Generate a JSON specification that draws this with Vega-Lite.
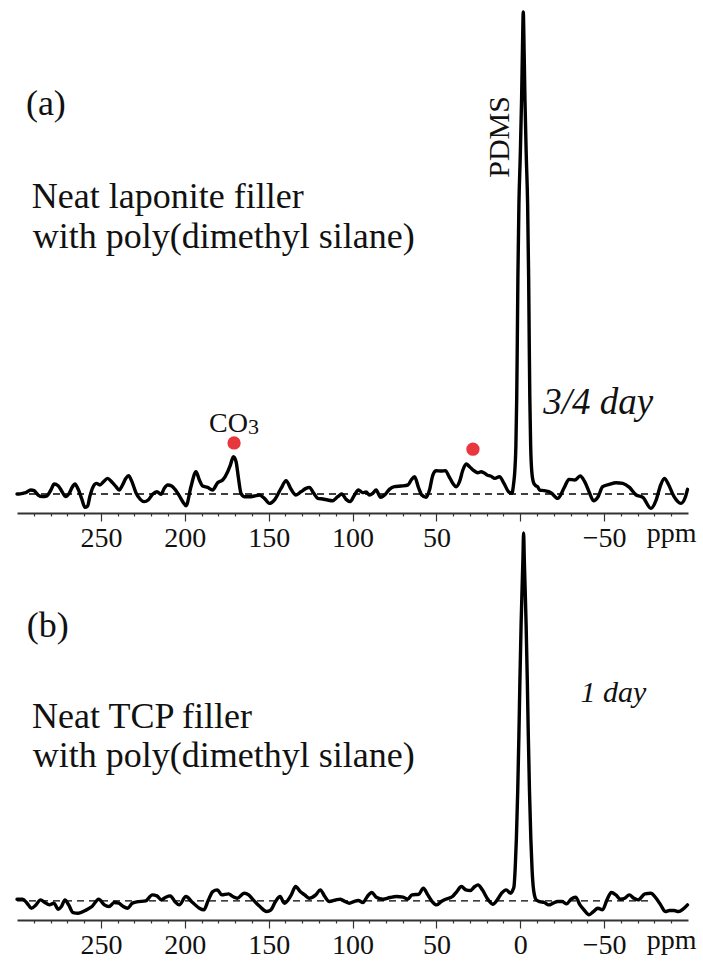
{
  "$schema": "https://vega.github.io/schema/vega-lite/v6.json",
  "padding": {"left": 15, "top": 0, "right": 0, "bottom": 0},
  "background": "white",
  "bounds": "flush",
  "spacing": 17,
  "config": {"view": {"stroke": null}, "font": "Liberation Serif", "axis": {"labelFont": "Liberation Serif"}},
  "datasets": {
    "spec_a": [
      {"ppm": 300, "intensity": 0.0}, {"ppm": 298.7, "intensity": 0.0}, {"ppm": 296.7, "intensity": 0.14}, {"ppm": 294.8, "intensity": 0.28},
      {"ppm": 291.8, "intensity": 0.83}, {"ppm": 289.8, "intensity": 0.69}, {"ppm": 287.4, "intensity": -0.21}, {"ppm": 284.8, "intensity": -0.55},
      {"ppm": 282.4, "intensity": -0.42}, {"ppm": 279.8, "intensity": 0.83}, {"ppm": 277.8, "intensity": 2.07}, {"ppm": 275.5, "intensity": 1.73},
      {"ppm": 273.5, "intensity": 0.69}, {"ppm": 270.9, "intensity": -0.55}, {"ppm": 268.9, "intensity": 0.14}, {"ppm": 266.9, "intensity": 1.52},
      {"ppm": 265.5, "intensity": 2.07}, {"ppm": 263.5, "intensity": 0.97}, {"ppm": 261.5, "intensity": -0.9}, {"ppm": 259.5, "intensity": -2.77},
      {"ppm": 257.9, "intensity": -2.49}, {"ppm": 256.6, "intensity": -0.55}, {"ppm": 254.6, "intensity": 1.52}, {"ppm": 252.6, "intensity": 2.2},
      {"ppm": 250.6, "intensity": 1.87}, {"ppm": 248.6, "intensity": 2.49}, {"ppm": 246.0, "intensity": 3.25}, {"ppm": 243.6, "intensity": 2.56},
      {"ppm": 241.0, "intensity": 1.52}, {"ppm": 239.1, "intensity": 0.83}, {"ppm": 237.1, "intensity": 1.87}, {"ppm": 235.1, "intensity": 3.25},
      {"ppm": 233.5, "intensity": 3.8}, {"ppm": 231.5, "intensity": 2.56}, {"ppm": 229.1, "intensity": 0.28}, {"ppm": 226.5, "intensity": -1.1},
      {"ppm": 224.1, "intensity": -1.59}, {"ppm": 221.8, "intensity": -1.24}, {"ppm": 219.2, "intensity": -0.07}, {"ppm": 216.6, "intensity": 0.48},
      {"ppm": 214.2, "intensity": -0.07}, {"ppm": 212.2, "intensity": 1.18}, {"ppm": 210.2, "intensity": 1.87}, {"ppm": 207.8, "intensity": 1.66},
      {"ppm": 205.8, "intensity": 0.97}, {"ppm": 203.3, "intensity": -0.35}, {"ppm": 201.0, "intensity": -1.7}, {"ppm": 199.2, "intensity": -2.45},
      {"ppm": 196.3, "intensity": 1.52}, {"ppm": 193.3, "intensity": 4.63}, {"ppm": 191.3, "intensity": 2.9}, {"ppm": 189.3, "intensity": 1.66},
      {"ppm": 186.4, "intensity": 1.38}, {"ppm": 183.4, "intensity": 0.83}, {"ppm": 180.4, "intensity": 2.35}, {"ppm": 177.4, "intensity": 2.9},
      {"ppm": 174.4, "intensity": 4.63}, {"ppm": 172.8, "intensity": 6.01}, {"ppm": 171.0, "intensity": 7.74}, {"ppm": 169.4, "intensity": 6.7},
      {"ppm": 168.1, "intensity": 3.59}, {"ppm": 166.5, "intensity": 0.14}, {"ppm": 164.5, "intensity": -0.56}, {"ppm": 161.5, "intensity": -0.56},
      {"ppm": 158.5, "intensity": -0.42}, {"ppm": 155.5, "intensity": -0.21}, {"ppm": 152.5, "intensity": -0.9}, {"ppm": 149.6, "intensity": -1.94},
      {"ppm": 146.6, "intensity": -1.25}, {"ppm": 142.6, "intensity": 1.17}, {"ppm": 139.6, "intensity": 2.76}, {"ppm": 136.6, "intensity": 0.97},
      {"ppm": 133.7, "intensity": -0.21}, {"ppm": 130.7, "intensity": 0.48}, {"ppm": 127.7, "intensity": 1.17}, {"ppm": 125.7, "intensity": 1.38},
      {"ppm": 123.1, "intensity": 0.14}, {"ppm": 120.7, "intensity": -0.9}, {"ppm": 117.7, "intensity": -1.04}, {"ppm": 114.8, "intensity": -1.25},
      {"ppm": 111.8, "intensity": -1.39}, {"ppm": 108.8, "intensity": -0.56}, {"ppm": 106.4, "intensity": 0.0}, {"ppm": 103.8, "intensity": -1.11},
      {"ppm": 101.4, "intensity": -1.59}, {"ppm": 98.8, "intensity": -0.21}, {"ppm": 96.5, "intensity": 0.83}, {"ppm": 93.9, "intensity": 0.28},
      {"ppm": 91.9, "intensity": 0.41}, {"ppm": 89.9, "intensity": -0.21}, {"ppm": 87.9, "intensity": 0.14}, {"ppm": 85.9, "intensity": 0.83},
      {"ppm": 83.3, "intensity": -0.69}, {"ppm": 80.9, "intensity": -0.21}, {"ppm": 78.0, "intensity": 0.97}, {"ppm": 75.0, "intensity": 1.52},
      {"ppm": 71.0, "intensity": 1.66}, {"ppm": 67.0, "intensity": 1.87}, {"ppm": 65.0, "intensity": 2.9}, {"ppm": 63.0, "intensity": 3.59},
      {"ppm": 60.7, "intensity": 1.38}, {"ppm": 58.7, "intensity": -0.21}, {"ppm": 56.1, "intensity": -0.69}, {"ppm": 54.1, "intensity": 0.83},
      {"ppm": 52.1, "intensity": 3.94}, {"ppm": 50.1, "intensity": 4.84}, {"ppm": 47.1, "intensity": 4.77}, {"ppm": 44.6, "intensity": 4.84},
      {"ppm": 42.6, "intensity": 3.73}, {"ppm": 40.2, "intensity": 2.21}, {"ppm": 38.2, "intensity": 1.52}, {"ppm": 36.2, "intensity": 2.56},
      {"ppm": 34.2, "intensity": 4.98}, {"ppm": 32.2, "intensity": 6.22}, {"ppm": 30.2, "intensity": 5.67}, {"ppm": 28.2, "intensity": 4.98},
      {"ppm": 25.3, "intensity": 4.42}, {"ppm": 23.3, "intensity": 4.63}, {"ppm": 21.7, "intensity": 4.4}, {"ppm": 19.5, "intensity": 3.9},
      {"ppm": 17.7, "intensity": 3.73}, {"ppm": 15.1, "intensity": 3.25}, {"ppm": 12.4, "intensity": 3.59}, {"ppm": 9.7, "intensity": 2.21},
      {"ppm": 7.0, "intensity": 0.48}, {"ppm": 5.0, "intensity": 0.14}, {"ppm": 4.0, "intensity": 2}, {"ppm": 3.2, "intensity": 5},
      {"ppm": 2.6, "intensity": 10}, {"ppm": 2.1, "intensity": 20}, {"ppm": 1.8, "intensity": 30}, {"ppm": 1.4, "intensity": 45},
      {"ppm": 0.8, "intensity": 60}, {"ppm": 0.0, "intensity": 70}, {"ppm": -0.8, "intensity": 82}, {"ppm": -1.3, "intensity": 92},
      {"ppm": -1.8, "intensity": 100}, {"ppm": -2.3, "intensity": 92}, {"ppm": -2.8, "intensity": 82}, {"ppm": -3.6, "intensity": 70},
      {"ppm": -4.4, "intensity": 60}, {"ppm": -5.0, "intensity": 45}, {"ppm": -5.4, "intensity": 30}, {"ppm": -5.7, "intensity": 20},
      {"ppm": -6.2, "intensity": 10}, {"ppm": -6.8, "intensity": 5}, {"ppm": -7.8, "intensity": 2.5}, {"ppm": -9.0, "intensity": 1.8},
      {"ppm": -10.3, "intensity": 1.52}, {"ppm": -11.6, "intensity": 0.83}, {"ppm": -14.3, "intensity": 0.69}, {"ppm": -18.3, "intensity": 0.28},
      {"ppm": -22.3, "intensity": -0.9}, {"ppm": -26.3, "intensity": 1.38}, {"ppm": -29.0, "intensity": 3.04}, {"ppm": -32.5, "intensity": 2.9},
      {"ppm": -35.7, "intensity": 3.73}, {"ppm": -38.4, "intensity": 2.56}, {"ppm": -41.0, "intensity": 0.48}, {"ppm": -43.7, "intensity": -1.39},
      {"ppm": -46.4, "intensity": -0.56}, {"ppm": -49.1, "intensity": 1.52}, {"ppm": -53.1, "intensity": 2.0}, {"ppm": -57.1, "intensity": 2.35},
      {"ppm": -61.1, "intensity": 2.21}, {"ppm": -65.1, "intensity": 1.38}, {"ppm": -69.1, "intensity": -0.21}, {"ppm": -73.1, "intensity": -0.69},
      {"ppm": -77.9, "intensity": -2.98}, {"ppm": -81.0, "intensity": -1.25}, {"ppm": -83.7, "intensity": 1.87}, {"ppm": -85.9, "intensity": 3.25},
      {"ppm": -88.5, "intensity": 1.87}, {"ppm": -91.7, "intensity": -0.56}, {"ppm": -95.7, "intensity": -1.94}, {"ppm": -98.5, "intensity": -0.56},
      {"ppm": -99.7, "intensity": 0.97}
    ],
    "spec_b": [
      {"ppm": 300, "intensity": 0.46}, {"ppm": 296.7, "intensity": 0.46}, {"ppm": 294.0, "intensity": -0.63}, {"ppm": 291.4, "intensity": -1.99},
      {"ppm": 288.7, "intensity": -1.09}, {"ppm": 286.0, "intensity": 0.27}, {"ppm": 283.4, "intensity": -0.45}, {"ppm": 280.7, "intensity": -1.09},
      {"ppm": 278.0, "intensity": -0.63}, {"ppm": 275.4, "intensity": -2.26}, {"ppm": 273.5, "intensity": -1.54}, {"ppm": 271.4, "intensity": 0.27},
      {"ppm": 269.2, "intensity": -1.09}, {"ppm": 266.6, "intensity": -3.17}, {"ppm": 263.4, "intensity": -3.35}, {"ppm": 259.3, "intensity": -2.62},
      {"ppm": 255.3, "intensity": -1.54}, {"ppm": 251.3, "intensity": 0.46}, {"ppm": 247.9, "intensity": -1.09}, {"ppm": 245.2, "intensity": -1.54},
      {"ppm": 242.0, "intensity": -0.45}, {"ppm": 239.3, "intensity": -0.63}, {"ppm": 236.7, "intensity": -1.54}, {"ppm": 234.0, "intensity": -1.99},
      {"ppm": 231.3, "intensity": -0.63}, {"ppm": 228.6, "intensity": -0.27}, {"ppm": 223.3, "intensity": 0.0}, {"ppm": 219.3, "intensity": 1.63},
      {"ppm": 216.6, "intensity": 1.36}, {"ppm": 214.0, "intensity": 0.27}, {"ppm": 211.3, "intensity": 1.0}, {"ppm": 208.6, "intensity": 1.36},
      {"ppm": 205.9, "intensity": -0.18}, {"ppm": 203.3, "intensity": -1.09}, {"ppm": 199.3, "intensity": 1.18}, {"ppm": 195.3, "intensity": -0.45},
      {"ppm": 191.3, "intensity": -1.99}, {"ppm": 188.6, "intensity": -2.44}, {"ppm": 185.9, "intensity": 0.27}, {"ppm": 183.3, "intensity": 2.54},
      {"ppm": 180.6, "intensity": 2.99}, {"ppm": 177.9, "intensity": 1.63}, {"ppm": 173.9, "intensity": 1.9}, {"ppm": 171.3, "intensity": 1.18},
      {"ppm": 168.6, "intensity": 0.72}, {"ppm": 164.6, "intensity": 2.09}, {"ppm": 161.9, "intensity": 1.63}, {"ppm": 159.2, "intensity": 0.27},
      {"ppm": 155.2, "intensity": -1.54}, {"ppm": 151.2, "intensity": -2.9}, {"ppm": 148.6, "intensity": -2.44}, {"ppm": 145.9, "intensity": -0.18},
      {"ppm": 143.2, "intensity": 1.18}, {"ppm": 140.6, "intensity": -0.63}, {"ppm": 136.5, "intensity": 1.63}, {"ppm": 133.9, "intensity": 3.9},
      {"ppm": 131.2, "intensity": 2.54}, {"ppm": 128.5, "intensity": 1.63}, {"ppm": 125.9, "intensity": 0.72}, {"ppm": 121.9, "intensity": 1.63},
      {"ppm": 119.2, "intensity": 2.99}, {"ppm": 116.5, "intensity": 1.18}, {"ppm": 113.9, "intensity": -0.18}, {"ppm": 109.9, "intensity": 0.27},
      {"ppm": 107.2, "intensity": 0.46}, {"ppm": 104.5, "intensity": -0.18}, {"ppm": 101.8, "intensity": -0.63}, {"ppm": 99.2, "intensity": -0.18},
      {"ppm": 96.5, "intensity": 0.09}, {"ppm": 93.8, "intensity": -0.45}, {"ppm": 91.2, "intensity": 1.18}, {"ppm": 88.5, "intensity": 2.27},
      {"ppm": 85.8, "intensity": 1.0}, {"ppm": 81.8, "intensity": 0.46}, {"ppm": 77.8, "intensity": 0.91}, {"ppm": 73.8, "intensity": 1.18},
      {"ppm": 69.8, "intensity": 1.0}, {"ppm": 67.1, "intensity": 0.46}, {"ppm": 64.5, "intensity": 1.63}, {"ppm": 60.5, "intensity": 1.81},
      {"ppm": 57.8, "intensity": 3.45}, {"ppm": 55.1, "intensity": 1.63}, {"ppm": 52.5, "intensity": -0.18}, {"ppm": 49.8, "intensity": -1.09},
      {"ppm": 47.1, "intensity": -0.18}, {"ppm": 44.4, "intensity": 0.46}, {"ppm": 40.4, "intensity": 1.18}, {"ppm": 37.8, "intensity": 2.54},
      {"ppm": 35.1, "intensity": 3.9}, {"ppm": 32.4, "intensity": 2.99}, {"ppm": 29.8, "intensity": 2.81}, {"ppm": 27.1, "intensity": 3.9},
      {"ppm": 25.2, "intensity": 4.35}, {"ppm": 22.6, "intensity": 2.99}, {"ppm": 19.1, "intensity": 0.27}, {"ppm": 16.4, "intensity": -0.91},
      {"ppm": 13.7, "intensity": 0.27}, {"ppm": 11.1, "intensity": 2.09}, {"ppm": 8.4, "intensity": 2.99}, {"ppm": 5.7, "intensity": 2.09},
      {"ppm": 4.4, "intensity": 2.99}, {"ppm": 3.7, "intensity": 4}, {"ppm": 3.0, "intensity": 9}, {"ppm": 2.3, "intensity": 17},
      {"ppm": 1.5, "intensity": 30}, {"ppm": 0.8, "intensity": 45}, {"ppm": 0.2, "intensity": 60}, {"ppm": -0.5, "intensity": 75},
      {"ppm": -1.1, "intensity": 85}, {"ppm": -1.6, "intensity": 93}, {"ppm": -2.0, "intensity": 100}, {"ppm": -2.4, "intensity": 93},
      {"ppm": -2.9, "intensity": 85}, {"ppm": -3.5, "intensity": 75}, {"ppm": -4.2, "intensity": 60}, {"ppm": -4.8, "intensity": 45},
      {"ppm": -5.5, "intensity": 30}, {"ppm": -6.3, "intensity": 17}, {"ppm": -7.0, "intensity": 9}, {"ppm": -7.7, "intensity": 4},
      {"ppm": -8.5, "intensity": 1.5}, {"ppm": -9.5, "intensity": 0.27}, {"ppm": -11.6, "intensity": -0.18}, {"ppm": -14.3, "intensity": -0.45},
      {"ppm": -17.0, "intensity": -1.09}, {"ppm": -19.6, "intensity": -0.63}, {"ppm": -22.3, "intensity": -0.18}, {"ppm": -25.0, "intensity": -0.18},
      {"ppm": -27.6, "intensity": -0.82}, {"ppm": -30.3, "intensity": 0.46}, {"ppm": -33.0, "intensity": 1.0}, {"ppm": -35.6, "intensity": -1.09},
      {"ppm": -38.3, "intensity": -2.62}, {"ppm": -41.0, "intensity": -3.8}, {"ppm": -43.6, "intensity": -2.9}, {"ppm": -46.3, "intensity": -1.99},
      {"ppm": -49.0, "intensity": -2.44}, {"ppm": -51.7, "intensity": 0.27}, {"ppm": -54.3, "intensity": 2.27}, {"ppm": -57.0, "intensity": 1.63},
      {"ppm": -59.7, "intensity": 0.46}, {"ppm": -62.3, "intensity": 0.72}, {"ppm": -65.0, "intensity": 1.63}, {"ppm": -67.7, "intensity": 0.72},
      {"ppm": -70.3, "intensity": 0.27}, {"ppm": -74.3, "intensity": 1.9}, {"ppm": -77.8, "intensity": 2.09}, {"ppm": -81.0, "intensity": 0.72},
      {"ppm": -83.7, "intensity": -1.09}, {"ppm": -86.4, "intensity": -2.9}, {"ppm": -89.0, "intensity": -2.62}, {"ppm": -91.7, "intensity": -2.62},
      {"ppm": -94.4, "intensity": -2.9}, {"ppm": -97.0, "intensity": -2.26}, {"ppm": -99.7, "intensity": -1.09}
    ]
  },
  "vconcat": [
    {
      "width": 671,
      "height": 513,
      "encoding": {
        "x": {
          "field": "ppm", "type": "quantitative",
          "scale": {"domain": [-100, 300], "reverse": true, "nice": false, "zero": false},
          "axis": {
            "title": null, "grid": false,
            "values": [290, 280, 270, 260, 250, 240, 230, 220, 210, 200, 190, 180, 170, 160, 150, 140, 130, 120, 110, 100, 90, 80, 70, 60, 50, 40, 30, 20, 10, 0, -10, -20, -30, -40, -50, -60, -70, -80, -90],
            "labelExpr": "datum.value === -90 ? 'ppm' : ((datum.value % 50 === 0 && datum.value !== 0) ? datum.label : '')",
            "tickSize": {"condition": {"test": "datum.value % 50 === 0", "value": 8}, "value": 3},
            "tickColor": "#333", "tickWidth": 1.2, "domainColor": "#333", "domainWidth": 2,
            "labelFont": "Liberation Serif", "labelFontSize": 28, "labelColor": "#111",
            "labelPadding": 3, "labelOverlap": false, "labelFlush": false, "labelBound": false
          }
        },
        "y": {"field": "intensity", "type": "quantitative", "scale": {"domain": [-3.94, 102.5], "nice": false, "zero": false}, "axis": null}
      },
      "layer": [
        {
          "data": {"values": [{"ppm": 300, "ppm2": -100, "intensity": 0}]},
          "mark": {"type": "rule", "strokeDash": [7, 5], "strokeWidth": 1.3, "color": "#000"},
          "encoding": {"x2": {"field": "ppm2"}}
        },
        {
          "data": {"name": "spec_a"},
          "mark": {"type": "line", "interpolate": "monotone", "strokeWidth": 3.4, "color": "black", "strokeJoin": "round", "strokeCap": "round"},
          "encoding": {}
        },
        {
          "data": {"values": [{"ppm": 170.6, "intensity": 10.6}, {"ppm": 28.2, "intensity": 9.3}]},
          "mark": {"type": "point", "filled": true, "size": 177, "color": "#e8383d", "opacity": 1},
          "encoding": {}
        },
        {
          "data": {"values": [
            {"ppm": 294.7, "intensity": 78.6, "label": "(a)"},
            {"ppm": 291.2, "intensity": 59.3, "label": "Neat laponite filler"},
            {"ppm": 290.6, "intensity": 51.0, "label": "with poly(dimethyl silane)"}
          ]},
          "mark": {"type": "text", "align": "left", "baseline": "alphabetic", "fontSize": 36, "font": "Liberation Serif", "color": "#111"},
          "encoding": {"text": {"field": "label"}}
        },
        {
          "data": {"values": [{"ppm": 6.6, "intensity": 74.1, "label": "PDMS"}]},
          "mark": {"type": "text", "angle": 270, "align": "center", "baseline": "alphabetic", "fontSize": 30, "font": "Liberation Serif", "color": "#111"},
          "encoding": {"text": {"field": "label"}}
        },
        {
          "data": {"values": [{"ppm": 162.3, "intensity": 12.9, "label": "CO"}]},
          "mark": {"type": "text", "align": "right", "baseline": "alphabetic", "fontSize": 28, "font": "Liberation Serif", "color": "#111"},
          "encoding": {"text": {"field": "label"}}
        },
        {
          "data": {"values": [{"ppm": 162.3, "intensity": 12.4, "label": "3"}]},
          "mark": {"type": "text", "align": "left", "baseline": "alphabetic", "fontSize": 22, "font": "Liberation Serif", "color": "#111"},
          "encoding": {"text": {"field": "label"}}
        },
        {
          "data": {"values": [{"ppm": -13.7, "intensity": 16.6, "label": "3/4 day"}]},
          "mark": {"type": "text", "align": "left", "baseline": "alphabetic", "fontSize": 37, "fontStyle": "italic", "font": "Liberation Serif", "color": "#111"},
          "encoding": {"text": {"field": "label"}}
        }
      ]
    },
    {
      "width": 671,
      "height": 390,
      "encoding": {
        "x": {
          "field": "ppm", "type": "quantitative",
          "scale": {"domain": [-100, 300], "reverse": true, "nice": false, "zero": false},
          "axis": {
            "title": null, "grid": false,
            "values": [290, 280, 270, 260, 250, 240, 230, 220, 210, 200, 190, 180, 170, 160, 150, 140, 130, 120, 110, 100, 90, 80, 70, 60, 50, 40, 30, 20, 10, 0, -10, -20, -30, -40, -50, -60, -70, -80, -90],
            "labelExpr": "datum.value === -90 ? 'ppm' : (datum.value % 50 === 0 ? datum.label : '')",
            "tickSize": {"condition": {"test": "datum.value % 50 === 0", "value": 8}, "value": 3},
            "tickColor": "#333", "tickWidth": 1.2, "domainColor": "#333", "domainWidth": 2,
            "labelFont": "Liberation Serif", "labelFontSize": 28, "labelColor": "#111",
            "labelPadding": 3, "labelOverlap": false, "labelFlush": false, "labelBound": false
          }
        },
        "y": {"field": "intensity", "type": "quantitative", "scale": {"domain": [-5.2, 100.8], "nice": false, "zero": false}, "axis": null}
      },
      "layer": [
        {
          "data": {"values": [{"ppm": 300, "ppm2": -78, "intensity": 0}]},
          "mark": {"type": "rule", "strokeDash": [7, 5], "strokeWidth": 1.3, "color": "#000"},
          "encoding": {"x2": {"field": "ppm2"}}
        },
        {
          "data": {"name": "spec_b"},
          "mark": {"type": "line", "interpolate": "monotone", "strokeWidth": 3.4, "color": "black", "strokeJoin": "round", "strokeCap": "round"},
          "encoding": {}
        },
        {
          "data": {"values": [
            {"ppm": 294.2, "intensity": 71.7, "label": "(b)"},
            {"ppm": 291.0, "intensity": 47.1, "label": "Neat TCP filler"},
            {"ppm": 290.6, "intensity": 36.4, "label": "with poly(dimethyl silane)"}
          ]},
          "mark": {"type": "text", "align": "left", "baseline": "alphabetic", "fontSize": 36, "font": "Liberation Serif", "color": "#111"},
          "encoding": {"text": {"field": "label"}}
        },
        {
          "data": {"values": [{"ppm": -55.5, "intensity": 54.1, "label": "1 day"}]},
          "mark": {"type": "text", "align": "center", "baseline": "alphabetic", "fontSize": 30, "fontStyle": "italic", "font": "Liberation Serif", "color": "#111"},
          "encoding": {"text": {"field": "label"}}
        }
      ]
    }
  ]
}
